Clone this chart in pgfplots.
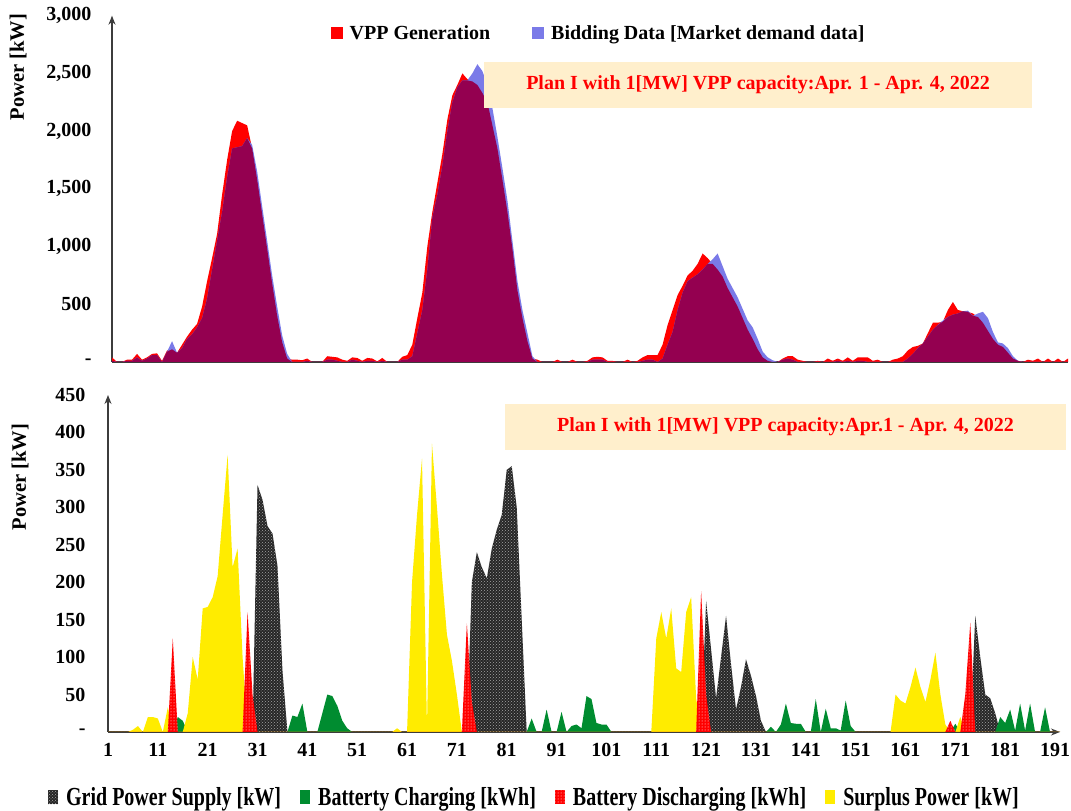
\documentclass[border=0pt]{standalone}
\usepackage{fontspec}
\setmainfont{Liberation Serif}
\usepackage{pgfplots}
\pgfplotsset{compat=1.18}
\usepackage{pgfplotstable}
\usetikzlibrary{patterns,arrows.meta}
\definecolor{vppred}{RGB}{255,0,0}
\definecolor{bidblue}{RGB}{122,122,232}
\definecolor{overlap}{RGB}{148,0,80}
\definecolor{boxbg}{RGB}{255,239,204}
\definecolor{surp}{RGB}{255,236,0}
\definecolor{chg}{RGB}{0,140,48}
\definecolor{axgray}{RGB}{60,60,60}
\newcommand\f{\fontsize{20}{24}\selectfont\bfseries}

\pgfplotstableread{
i vpp bid
1 40 10
2 0 0
3 0 0
4 20 10
5 20 10
6 70 40
7 20 10
8 40 30
9 70 60
10 75 60
11 10 0
12 100 90
13 110 180
14 80 80
15 150 120
16 220 200
17 280 240
18 330 300
19 480 380
20 700 550
21 900 800
22 1110 1050
23 1450 1300
24 1750 1600
25 2000 1850
26 2090 1860
27 2070 1870
28 2050 1940
29 1850 1880
30 1580 1650
31 1280 1350
32 980 1050
33 680 750
34 400 480
35 170 230
36 30 70
37 20 0
38 20 0
39 15 0
40 30 10
41 0 0
42 0 0
43 0 0
44 50 20
45 45 20
46 40 10
47 20 0
48 10 0
49 40 20
50 35 10
51 10 0
52 35 10
53 30 10
54 5 0
55 35 10
56 0 0
57 0 0
58 0 0
59 45 20
60 60 20
61 150 50
62 380 250
63 600 450
64 1000 800
65 1300 1250
66 1550 1450
67 1800 1700
68 2100 2000
69 2310 2250
70 2400 2380
71 2500 2440
72 2450 2440
73 2430 2500
74 2400 2580
75 2330 2520
76 2250 2400
77 2050 2200
78 1850 1950
79 1580 1680
80 1300 1400
81 980 1050
82 620 700
83 380 450
84 180 250
85 30 50
86 20 0
87 0 0
88 0 0
89 0 0
90 20 0
91 0 0
92 0 0
93 20 0
94 0 0
95 0 0
96 10 0
97 40 20
98 45 20
99 40 20
100 10 0
101 10 0
102 0 0
103 0 0
104 20 0
105 0 0
106 10 0
107 40 10
108 60 20
109 60 20
110 60 0
111 150 30
112 320 150
113 450 260
114 580 450
115 660 600
116 750 700
117 790 730
118 850 760
119 940 800
120 900 850
121 850 890
122 800 940
123 740 830
124 640 720
125 560 640
126 480 560
127 380 460
128 280 360
129 200 300
130 110 200
131 40 90
132 10 40
133 0 15
134 0 0
135 30 20
136 50 30
137 50 20
138 20 0
139 10 0
140 0 0
141 0 0
142 10 0
143 0 0
144 30 0
145 10 0
146 30 10
147 10 0
148 40 10
149 10 0
150 40 10
151 40 10
152 40 0
153 10 0
154 20 0
155 0 0
156 0 0
157 20 0
158 30 0
159 50 0
160 100 30
161 130 70
162 140 120
163 160 160
164 250 220
165 340 280
166 340 320
167 350 360
168 450 390
169 520 410
170 450 420
171 440 440
172 435 445
173 420 400
174 390 420
175 340 435
176 270 380
177 200 260
178 150 170
179 130 160
180 80 120
181 30 50
182 10 10
183 0 0
184 20 0
185 10 0
186 30 0
187 0 0
188 30 0
189 0 0
190 30 0
191 0 0
192 30 0
}\toptab

\pgfplotstableread{
i grid chg dis sur
1 0 0 0 0
2 0 0 0 0
3 0 0 0 0
4 0 0 0 0
5 0 0 0 0
6 0 0 0 3
7 0 0 0 8
8 0 0 0 0
9 0 0 0 20
10 0 0 0 20
11 0 0 0 18
12 0 0 0 0
13 0 0 0 33
14 0 0 125 0
15 0 20 0 0
16 0 15 0 0
17 0 0 0 25
18 0 0 0 100
19 0 0 0 70
20 0 0 0 165
21 0 0 0 167
22 0 0 0 180
23 0 0 0 208
24 0 0 0 290
25 0 0 0 370
26 0 0 0 220
27 0 0 0 245
28 0 0 0 100
29 0 0 160 0
30 0 0 50 0
31 330 0 0 0
32 310 0 0 0
33 275 0 0 0
34 265 0 0 0
35 222 0 0 0
36 82 0 0 0
37 0 0 0 0
38 0 22 0 0
39 0 20 0 0
40 0 38 0 0
41 0 0 0 0
42 0 0 0 0
43 0 0 0 0
44 0 25 0 0
45 0 50 0 0
46 0 48 0 0
47 0 35 0 0
48 0 15 0 0
49 0 5 0 0
50 0 0 0 0
51 0 0 0 0
52 0 0 0 0
53 0 0 0 0
54 0 0 0 0
55 0 0 0 0
56 0 0 0 0
57 0 0 0 0
58 0 0 0 0
59 0 0 0 5
60 0 0 0 0
61 0 0 0 0
62 0 0 0 200
63 0 0 0 290
64 0 0 0 365
65 0 0 0 5
66 0 0 0 385
67 0 0 0 300
68 0 0 0 210
69 0 0 0 130
70 0 0 0 95
71 0 0 0 50
72 0 0 0 0
73 0 0 145 0
74 200 0 40 0
75 240 0 0 0
76 220 0 0 0
77 205 0 0 0
78 245 0 0 0
79 270 0 0 0
80 290 0 0 0
81 350 0 0 0
82 355 0 0 0
83 300 0 0 0
84 150 0 0 0
85 0 0 0 0
86 0 18 0 0
87 0 0 0 0
88 0 0 0 0
89 0 30 0 0
90 0 0 0 0
91 0 0 0 0
92 0 27 0 0
93 0 0 0 0
94 0 8 0 0
95 0 10 0 0
96 0 5 0 0
97 0 48 0 0
98 0 44 0 0
99 0 12 0 0
100 0 10 0 0
101 0 10 0 0
102 0 0 0 0
103 0 0 0 0
104 0 0 0 0
105 0 0 0 0
106 0 0 0 0
107 0 0 0 0
108 0 0 0 0
109 0 0 0 0
110 0 0 0 0
111 0 0 0 125
112 0 0 0 160
113 0 0 0 125
114 0 0 0 165
115 0 0 0 85
116 0 0 0 80
117 0 0 0 160
118 0 0 0 180
119 0 0 0 45
120 0 0 188 0
121 175 0 50 0
122 110 0 0 0
123 45 0 0 0
124 100 0 0 0
125 155 0 0 0
126 90 0 0 0
127 30 0 0 0
128 60 0 0 0
129 97 0 0 0
130 75 0 0 0
131 48 0 0 0
132 15 0 0 0
133 0 0 0 0
134 0 7 0 0
135 0 0 0 0
136 0 10 0 0
137 0 38 0 0
138 0 12 0 0
139 0 11 0 0
140 0 11 0 0
141 0 0 0 0
142 0 0 0 0
143 0 44 0 0
144 0 0 0 0
145 0 31 0 0
146 0 5 0 0
147 0 5 0 0
148 0 2 0 0
149 0 42 0 0
150 0 8 0 0
151 0 0 0 0
152 0 0 0 0
153 0 0 0 0
154 0 0 0 0
155 0 0 0 0
156 0 0 0 0
157 0 0 0 0
158 0 0 0 0
159 0 0 0 50
160 0 0 0 42
161 0 0 0 38
162 0 0 0 60
163 0 0 0 86
164 0 0 0 60
165 0 0 0 40
166 0 0 0 70
167 0 0 0 106
168 0 0 0 50
169 0 0 0 10
170 0 0 15 0
171 0 11 0 0
172 0 0 0 20
173 0 0 50 0
174 0 0 146 0
175 155 0 0 0
176 100 0 0 0
177 50 0 0 0
178 45 0 0 0
179 25 0 0 0
180 0 20 0 0
181 0 12 0 0
182 0 30 0 0
183 0 2 0 0
184 0 38 0 0
185 0 2 0 0
186 0 38 0 0
187 0 0 0 0
188 0 0 0 0
189 0 33 0 0
190 0 0 0 0
191 0 0 0 0
192 0 0 0 0
}\bottab

\pgfplotsset{
  gridsty/.style={draw=none, preaction={fill=black!85}, pattern=crosshatch dots, pattern color=white!65!black},
  chgsty/.style={draw=none, fill=chg},
  dissty/.style={draw=none, preaction={fill=red}, pattern=dots, pattern color=white},
  sursty/.style={draw=none, fill=surp},
  common/.style={
    scale only axis, enlargelimits=false,
    axis lines=left,
    axis line style={draw=axgray, line width=1.2pt},
    y axis line style={-{Stealth[length=9pt,width=7pt]}},
    major tick length=0pt,
    ticklabel style={font=\f},
    /pgf/number format/assume math mode=true,
    ylabel={Power [kW]},
    ylabel style={font=\fontsize{20.5}{24}\selectfont\bfseries, anchor=center},
  },
}

\begin{document}
\begin{tikzpicture}[x=1pt,y=1pt]
\useasboundingbox (0,0) rectangle (1071,811);

% ---------- top panel ----------
\begin{axis}[common,
  at={(112pt,449pt)}, anchor=south west,
  width=956pt, height=346.3pt,
  xmin=1, xmax=192, ymin=0, ymax=3000,
  x axis line style={-},
  xtick=\empty,
  ytick={0,500,1000,1500,2000,2500,3000},
  yticklabels={{-\hspace{0.6em}},{500},{1,000},{1,500},{2,000},{2,500},{3,000}},
  yticklabel style={xshift=-17pt},
  ylabel style={at={(axis description cs:-0.0983,0.852)}},
  legend image code/.code={\path[#1] (0pt,-6pt) rectangle (12pt,6pt); \path (17pt,0pt);},
  legend style={at={(0.509,0.95)}, anchor=center, draw=none, fill=none,
    font=\f, legend columns=2,
    /tikz/every even column/.append style={column sep=40pt}},
]
\addplot[fill=vppred, draw=none] table[x=i,y=vpp]{\toptab} \closedcycle;
\addlegendentry{VPP Generation}
\addplot[fill=bidblue, draw=none] table[x=i,y=bid]{\toptab} \closedcycle;
\addlegendentry{Bidding Data [Market demand data]}
\addplot[fill=overlap, draw=none, forget plot] table[x=i,y expr={min(\thisrow{vpp},\thisrow{bid})}]{\toptab} \closedcycle;
\end{axis}

\node[fill=boxbg, minimum width=548pt, minimum height=46pt, inner sep=0pt, text=red, font=\f]
  at (758,726) {Plan I with 1[MW] VPP capacity:Apr. 1 - Apr. 4, 2022};

% ---------- bottom panel ----------
\begin{axis}[common,
  at={(108pt,79pt)}, anchor=south west,
  width=952pt, height=337pt,
  xmin=1, xmax=192, ymin=0, ymax=450,
  x axis line style={-{Stealth[length=9pt,width=7pt]}},
  xtick={1,11,...,191},
  xticklabel style={yshift=-8pt},
  ytick={0,50,...,450},
  yticklabels={{-\hspace{0.6em}},50,100,150,200,250,300,350,400,450},
  yticklabel style={xshift=-19pt},
  ylabel style={at={(axis description cs:-0.0924,0.757)}},
  legend image code/.code={\path[#1] (0pt,-7pt) rectangle (10pt,7pt); \path (16pt,0pt);},
  legend style={at={(0.448,-0.193)}, anchor=center, draw=none, fill=none,
    font=\f, legend columns=4,
    /tikz/every even column/.append style={column sep=17pt}},
]
\addplot[gridsty, forget plot] table[x=i,y=grid]{\bottab} \closedcycle;
\addplot[chgsty, forget plot] table[x=i,y=chg]{\bottab} \closedcycle;
\addplot[sursty, forget plot] table[x=i,y=sur]{\bottab} \closedcycle;
\addplot[dissty, forget plot] table[x=i,y=dis]{\bottab} \closedcycle;
\addlegendimage{gridsty}
\addlegendentry{\scalebox{1}[1.3]{Grid Power Supply [kW]}}
\addlegendimage{chgsty}
\addlegendentry{\scalebox{1}[1.3]{Batterty Charging [kWh]}}
\addlegendimage{dissty}
\addlegendentry{\scalebox{1}[1.3]{Battery Discharging [kWh]}}
\addlegendimage{sursty}
\addlegendentry{\scalebox{1}[1.3]{Surplus Power [kW]}}
\end{axis}

\node[fill=boxbg, minimum width=561pt, minimum height=45.5pt, inner sep=0pt, text=red, font=\f]
  at (785.5,384) {Plan I with 1[MW] VPP capacity:Apr.1 - Apr. 4, 2022};
\end{tikzpicture}
\end{document}
